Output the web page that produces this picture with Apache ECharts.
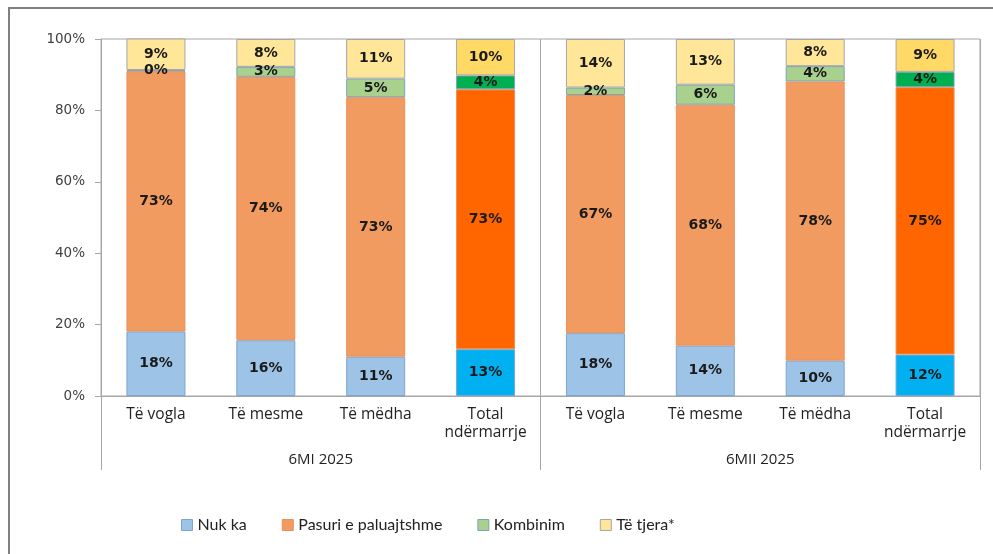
<!DOCTYPE html>
<html>
<head>
<meta charset="utf-8">
<script src="https://cdn.jsdelivr.net/npm/echarts@6/dist/echarts.min.js"></script>
<style>
  html, body { margin: 0; padding: 0; background: #fff; }
  #chart { width: 993px; height: 554px; }
</style>
</head>
<body>
<div id="chart"></div>
<script>
const categories = ['Të vogla', 'Të mesme', 'Të mëdha', 'Total\nndërmarrje',
  'Të vogla', 'Të mesme', 'Të mëdha', 'Total\nndërmarrje']
const groups = ['6MI 2025', '6MII 2025']
const seriesNames = ['Nuk ka', 'Pasuri e paluajtshme', 'Kombinim', 'Të tjera*']

// shares in %
const nukKa = [18.1, 15.6, 11.0, 13.1, 17.6, 14.1, 9.9, 11.6]
const pasuri = [72.9, 73.8, 72.7, 72.8, 66.7, 67.5, 78.2, 74.9]
const kombinim = [0.3, 2.8, 5.2, 3.9, 2.1, 5.6, 4.3, 4.3]
const teTjera = [9.0, 7.8, 11.1, 10.2, 13.6, 12.8, 7.6, 9.2]

const yTicks = [0, 20, 40, 60, 80, 100]

// normal colour / colour used on the "Total" bars / bar border
const palette = [
  { color: '#9DC3E6', total: '#00B0F0', border: '#7DA5CF' },
  { color: '#F29B61', total: '#FF6600', border: '#E8915A' },
  { color: '#A9D18E', total: '#00B050', border: '#7FA3B8' },
  { color: '#FFE699', total: '#FFD966', border: '#A6A6A6' }
]
const totalIdx = [3, 7]

const chart = echarts.init(document.getElementById('chart'))

const makeSeries = (name, values, i) => ({
  name: name,
  type: 'bar',
  stack: 'all',
  barWidth: 59,
  xAxisIndex: 0,
  data: values.map((v, k) => totalIdx.includes(k)
    ? { value: v, itemStyle: { color: palette[i].total } }
    : v),
  itemStyle: {
    color: palette[i].color,
    borderColor: palette[i].border,
    borderWidth: 1
  },
  label: {
    show: true,
    position: 'inside',
    formatter: p => Math.round(p.value) + '%',
    fontFamily: 'DejaVu Sans',
    fontWeight: 'bold',
    fontSize: 14,
    color: '#1a1a1a'
  },
  emphasis: { disabled: true }
})

chart.setOption({
  animation: false,
  textStyle: { fontFamily: 'Open Sans' },
  grid: {
    left: 101,
    right: 13,
    top: 39,
    bottom: 158,
    show: true,
    borderColor: '#A6A6A6',
    borderWidth: 1
  },
  legend: {
    bottom: 16,
    left: 176,
    itemWidth: 11,
    itemHeight: 11,
    itemGap: 35,
    icon: 'rect',
    data: seriesNames.map((n, i) => ({
      name: n,
      itemStyle: { color: palette[i].color, borderColor: palette[i].border, borderWidth: 1 }
    })),
    textStyle: { fontFamily: 'Lato', fontSize: 16, color: '#222', padding: [0, 0, 0, 0] }
  },
  xAxis: [{
    type: 'category',
    data: categories,
    axisLine: { lineStyle: { color: '#A6A6A6' } },
    axisTick: { show: false },
    axisLabel: {
      margin: 10,
      fontFamily: 'Open Sans',
      fontSize: 15.5,
      lineHeight: 18,
      color: '#222',
      interval: 0
    }
  }, {
    type: 'category',
    data: groups,
    position: 'bottom',
    axisLine: { show: false },
    axisTick: { show: true, length: 74, lineStyle: { color: '#A6A6A6' } },
    splitLine: { show: true, lineStyle: { color: '#A6A6A6' } },
    axisLabel: {
      margin: 56,
      fontFamily: 'Open Sans',
      fontSize: 15,
      color: '#222'
    }
  }],
  yAxis: {
    type: 'value',
    min: yTicks[0],
    max: yTicks[yTicks.length - 1],
    interval: 20,
    axisLine: { show: true, lineStyle: { color: '#A6A6A6' } },
    axisTick: { show: true, length: 6, lineStyle: { color: '#A6A6A6' } },
    splitLine: { show: false },
    axisLabel: {
      margin: 16,
      formatter: '{value}%',
      fontFamily: 'DejaVu Sans',
      fontSize: 13.5,
      color: '#404040'
    }
  },
  graphic: [{
    type: 'rect',
    shape: { x: 9, y: 8, width: 1000, height: 600 },
    style: { fill: 'none', stroke: '#808080', lineWidth: 2 },
    silent: true
  }],
  series: [
    makeSeries(seriesNames[0], nukKa, 0),
    makeSeries(seriesNames[1], pasuri, 1),
    makeSeries(seriesNames[2], kombinim, 2),
    makeSeries(seriesNames[3], teTjera, 3)
  ]
})
</script>
</body>
</html>
